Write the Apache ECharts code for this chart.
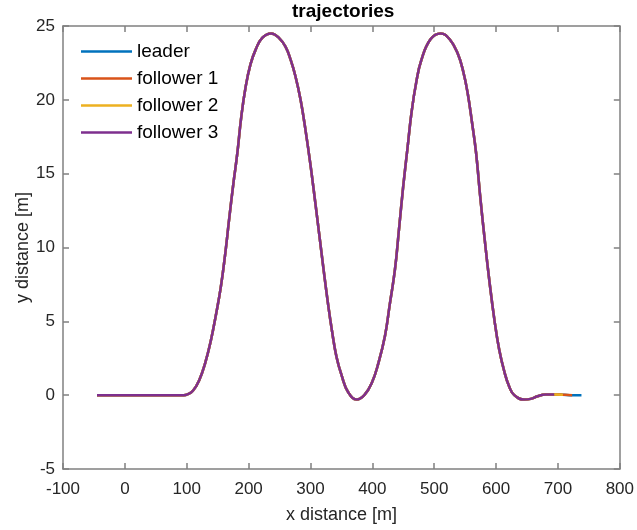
<!DOCTYPE html>
<html lang="en">
  <head>
    <meta charset="UTF-8" />
    <title>trajectories</title>
    <script src="https://cdn.jsdelivr.net/npm/echarts@6/dist/echarts.min.js"></script>
    <style>
      html, body { margin: 0; padding: 0; background: #fff; }
      #chart { width: 637px; height: 530px; }
    </style>
  </head>
  <body>
    <div id="chart"></div>
    <script>
      // path, x in m
      const pathX = [-45, 0, 50, 95, 101, 110, 120, 130, 139, 147, 155, 162, 168.5, 175, 181.8, 188, 195.3, 203, 211.4, 222,
        236.5, 249, 259.6, 268, 275.7, 284, 291.8, 300, 307.9, 315, 321.2, 328, 334.6, 342, 350.6, 361, 374.8, 387, 398.9,
        410, 420.4, 428, 436.5, 443, 449.8, 457, 463.2, 471, 479.3, 494, 510.4, 525, 538.3, 547, 554.3, 561, 567.7, 574,
        581.2, 589, 597.3, 605, 613.3, 621, 629.4, 645.5, 656, 667, 680, 694, 708, 723, 738];
      // y in m
      const pathY = [0, 0, 0, 0, 0.05, 0.3, 1.0, 2.2, 3.7, 5.4, 7.3, 9.5, 11.9, 14.2, 16.4, 18.8, 20.9, 22.4, 23.4, 24.2,
        24.5, 24.2, 23.6, 22.7, 21.6, 20.0, 18.0, 15.6, 13.0, 10.6, 8.5, 6.3, 4.4, 2.6, 1.3, 0.2, -0.3, 0.0, 0.8,
        2.2, 4.0, 6.1, 8.5, 11.2, 14.1, 16.8, 19.1, 21.2, 22.7, 24.1, 24.5, 24.1, 23.1, 21.9, 20.4, 18.5, 16.4, 13.6,
        10.7, 7.8, 5.1, 3.1, 1.6, 0.6, 0.0, -0.3, -0.25, -0.07, 0.05, 0.05, 0.03, 0.0, 0.0];

      const names = ["leader", "follower 1", "follower 2", "follower 3"];
      const endX = [738, 723, 708, 694];
      const colors = ["#0072BD", "#D95319", "#EDB120", "#7E2F8E"];

      const xTicks = [-100, 0, 100, 200, 300, 400, 500, 600, 700, 800];
      const yTicks = [-5, 0, 5, 10, 15, 20, 25];

      const axisCol = "#808080";
      const textCol = "#262626";
      const font = "'Liberation Sans', Arial, sans-serif";

      let chart = echarts.init(document.getElementById("chart"), null, { renderer: "canvas" });

      function pathUntil(end) {
        let pts = [];
        for (let i = 0; i < pathX.length; i++) {
          if (pathX[i] <= end) pts.push([pathX[i], pathY[i]]);
        }
        return pts;
      }

      const series = names.map(function (n, i) {
        return {
          name: n,
          type: "line",
          data: pathUntil(endX[i]),
          symbol: "none",
          smooth: 0.45,
          lineStyle: { color: colors[i], width: 2.5 },
          itemStyle: { color: colors[i] },
          z: 2 + i,
        };
      });

      function xAxisDef(pos, main) {
        return {
          type: "value",
          position: pos,
          min: xTicks[0],
          max: xTicks[xTicks.length - 1],
          interval: 100,
          name: main ? "x distance [m]" : "",
          nameLocation: "middle",
          nameGap: 37,
          nameMoveOverlap: false,
          nameTextStyle: { fontSize: 18, color: textCol, fontFamily: font },
          axisLine: { show: true, onZero: false, lineStyle: { color: axisCol, width: 1.5 } },
          axisTick: { show: true, inside: true, length: 6, lineStyle: { color: axisCol, width: 1.5 } },
          axisLabel: { show: main, fontSize: 17, color: textCol, fontFamily: font, margin: 12 },
          splitLine: { show: false },
        };
      }

      function yAxisDef(pos, main) {
        return {
          type: "value",
          position: pos,
          min: yTicks[0],
          max: yTicks[yTicks.length - 1],
          interval: 5,
          name: main ? "y distance [m]" : "",
          nameLocation: "middle",
          nameGap: 31,
          nameMoveOverlap: false,
          nameTextStyle: { fontSize: 18, color: textCol, fontFamily: font },
          axisLine: { show: true, onZero: false, lineStyle: { color: axisCol, width: 1.5 } },
          axisTick: { show: true, inside: true, length: 6, lineStyle: { color: axisCol, width: 1.5 } },
          axisLabel: { show: main, fontSize: 17, color: textCol, fontFamily: font, margin: 8 },
          splitLine: { show: false },
        };
      }

      chart.setOption({
        animation: false,
        backgroundColor: "#ffffff",
        title: {
          text: "trajectories",
          left: 292,
          top: 2,
          padding: 0,
          textStyle: { fontSize: 19, fontWeight: "bold", color: "#000", fontFamily: font },
        },
        legend: {
          data: names,
          orient: "vertical",
          left: 81,
          top: 42,
          padding: 0,
          icon: "rect",
          itemWidth: 51,
          itemHeight: 2.5,
          itemGap: 8,
          textStyle: { fontSize: 19, color: "#000", fontFamily: font },
        },
        grid: { left: 63, right: 14, top: 26, bottom: 61, containLabel: false },
        xAxis: [xAxisDef("bottom", true), xAxisDef("top", false)],
        yAxis: [yAxisDef("left", true), yAxisDef("right", false)],
        series: series,
      });
    </script>
  </body>
</html>
